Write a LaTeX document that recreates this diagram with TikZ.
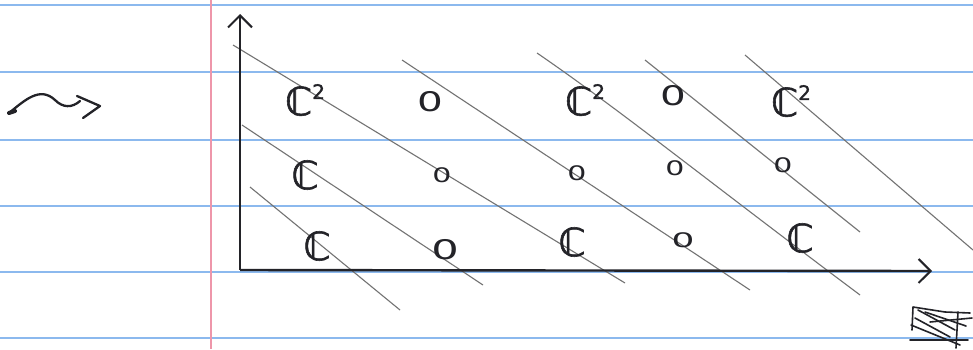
\documentclass[tikz,border=0pt]{standalone}
\usepackage{fontspec}
\newfontfamily\handfont[FakeBold=1.5]{DejaVu Sans}
\newfontfamily\zerofont{DejaVu Sans}
\usetikzlibrary{arrows.meta}
\definecolor{ruled}{RGB}{140,185,238}
\definecolor{marginred}{RGB}{238,150,170}
\definecolor{pencil}{RGB}{115,115,115}
\definecolor{ink}{RGB}{35,35,40}
\newcommand{\CC}{ℂ}
\newcommand{\CCsq}{ℂ\raisebox{0.42em}{\fontsize{20}{20}\selectfont 2}}
\newcommand{\zr}[1]{\scalebox{#1}[1]{0}}
\begin{document}
\begin{tikzpicture}[x=1pt,y=-1pt,
  ruleline/.style={ruled, line width=2.2pt},
  diag/.style={pencil, line width=1.1pt},
  axisline/.style={ink, line width=2.4pt, -{Straight Barb[length=12pt,width=24pt,line width=2pt]}},
  bigC/.style={ink, inner sep=0pt, font=\handfont\fontsize{39}{42}\selectfont},
  zeroA/.style={ink, inner sep=0pt, font=\zerofont\fontsize{27}{30}\selectfont},
  zeroB/.style={ink, inner sep=0pt, font=\zerofont\fontsize{20}{22}\selectfont},
  scrib/.style={ink, line width=1.6pt, line cap=round, line join=round},
]
\useasboundingbox (0,0) rectangle (973,349);
\fill[white] (0,0) rectangle (973,349);
% paper rules
\foreach \yy in {5,72,140,206,272,338} \draw[ruleline] (0,\yy) -- (973,\yy);
\draw[marginred, line width=1.6pt] (211,0) -- (211,349);

% diagonal pencil lines
\coordinate (a1) at (250,187); \coordinate (a2) at (400,310);
\coordinate (b1) at (242,125); \coordinate (b2) at (483,285);
\coordinate (c1) at (233,45);  \coordinate (c2) at (625,283);
\coordinate (d1) at (402,60);  \coordinate (d2) at (750,290);
\coordinate (e1) at (537,53);  \coordinate (e2) at (860,295);
\coordinate (f1) at (645,60);  \coordinate (f2) at (860,232);
\coordinate (g1) at (745,55);  \coordinate (g2) at (973,250);
\draw[diag] (a1) -- (a2);
\draw[diag] (b1) -- (b2);
\draw[diag] (c1) -- (c2);
\draw[diag] (d1) -- (d2);
\draw[diag] (e1) .. controls (620,110) and (700,175) .. (e2);
\draw[diag] (f1) -- (f2);
\draw[diag] (g1) -- (g2);

% axes
\coordinate (o) at (240,270);
\coordinate (ytop) at (240,14);
\coordinate (xend) at (932,271);
\draw[axisline] (o) -- (ytop);
\draw[axisline] (o) -- (xend);

% labels, top row
\node[bigC] (t1) at (305,100) {\CCsq};
\node[zeroA] (t2) at (430,102) {\zr{1.5}};
\node[bigC] (t3) at (585,100) {\CCsq};
\node[zeroA] (t4) at (673,96) {\zr{1.5}};
\node[bigC] (t5) at (791,101) {\CCsq};
% middle row
\node[bigC] (m1) at (305,175) {\CC};
\node[zeroB] (m2) at (442,175) {\zr{1.5}};
\node[zeroB] (m3) at (577,173) {\zr{1.5}};
\node[zeroB] (m4) at (675,168) {\zr{1.5}};
\node[zeroB] (m5) at (783,165) {\zr{1.5}};
% bottom row
\node[bigC] (b1n) at (317,246) {\CC};
\node[zeroA] (b2n) at (445,250) {\zr{1.6}};
\node[bigC] (b3n) at (572,242) {\CC};
\node[zeroB] (b4n) at (683,240) {\zr{1.8}};
\node[bigC] (b5n) at (800,238) {\CC};

% squiggly arrow on the left
\coordinate (s0) at (9,113);
\coordinate (s1) at (80,101);
\coordinate (stip) at (100,106);
\draw[ink, line width=2.3pt, line cap=round] (s0) .. controls (25,100) and (40,86) .. (55,100)
  .. controls (63,108) and (72,108) .. (s1);
\draw[ink, line width=2.3pt, line cap=round, line join=round] (77,96) -- (stip) -- (83,118);
\draw[ink, line width=4pt, line cap=round] (s0) -- (15,111);

% scribbled-out mark, bottom right
\draw[scrib] (912,330) -- (913,307) -- (945,312) -- (970,313);
\draw[scrib] (911,325) -- (960,345);
\draw[scrib] (915,318) -- (950,337);
\draw[scrib] (918,310) -- (955,330);
\draw[scrib] (925,312) -- (966,326);
\draw[scrib] (910,340) -- (968,340);
\draw[scrib] (958,312) -- (956,348);
\draw[scrib] (930,322) -- (972,318);
\end{tikzpicture}
\end{document}
